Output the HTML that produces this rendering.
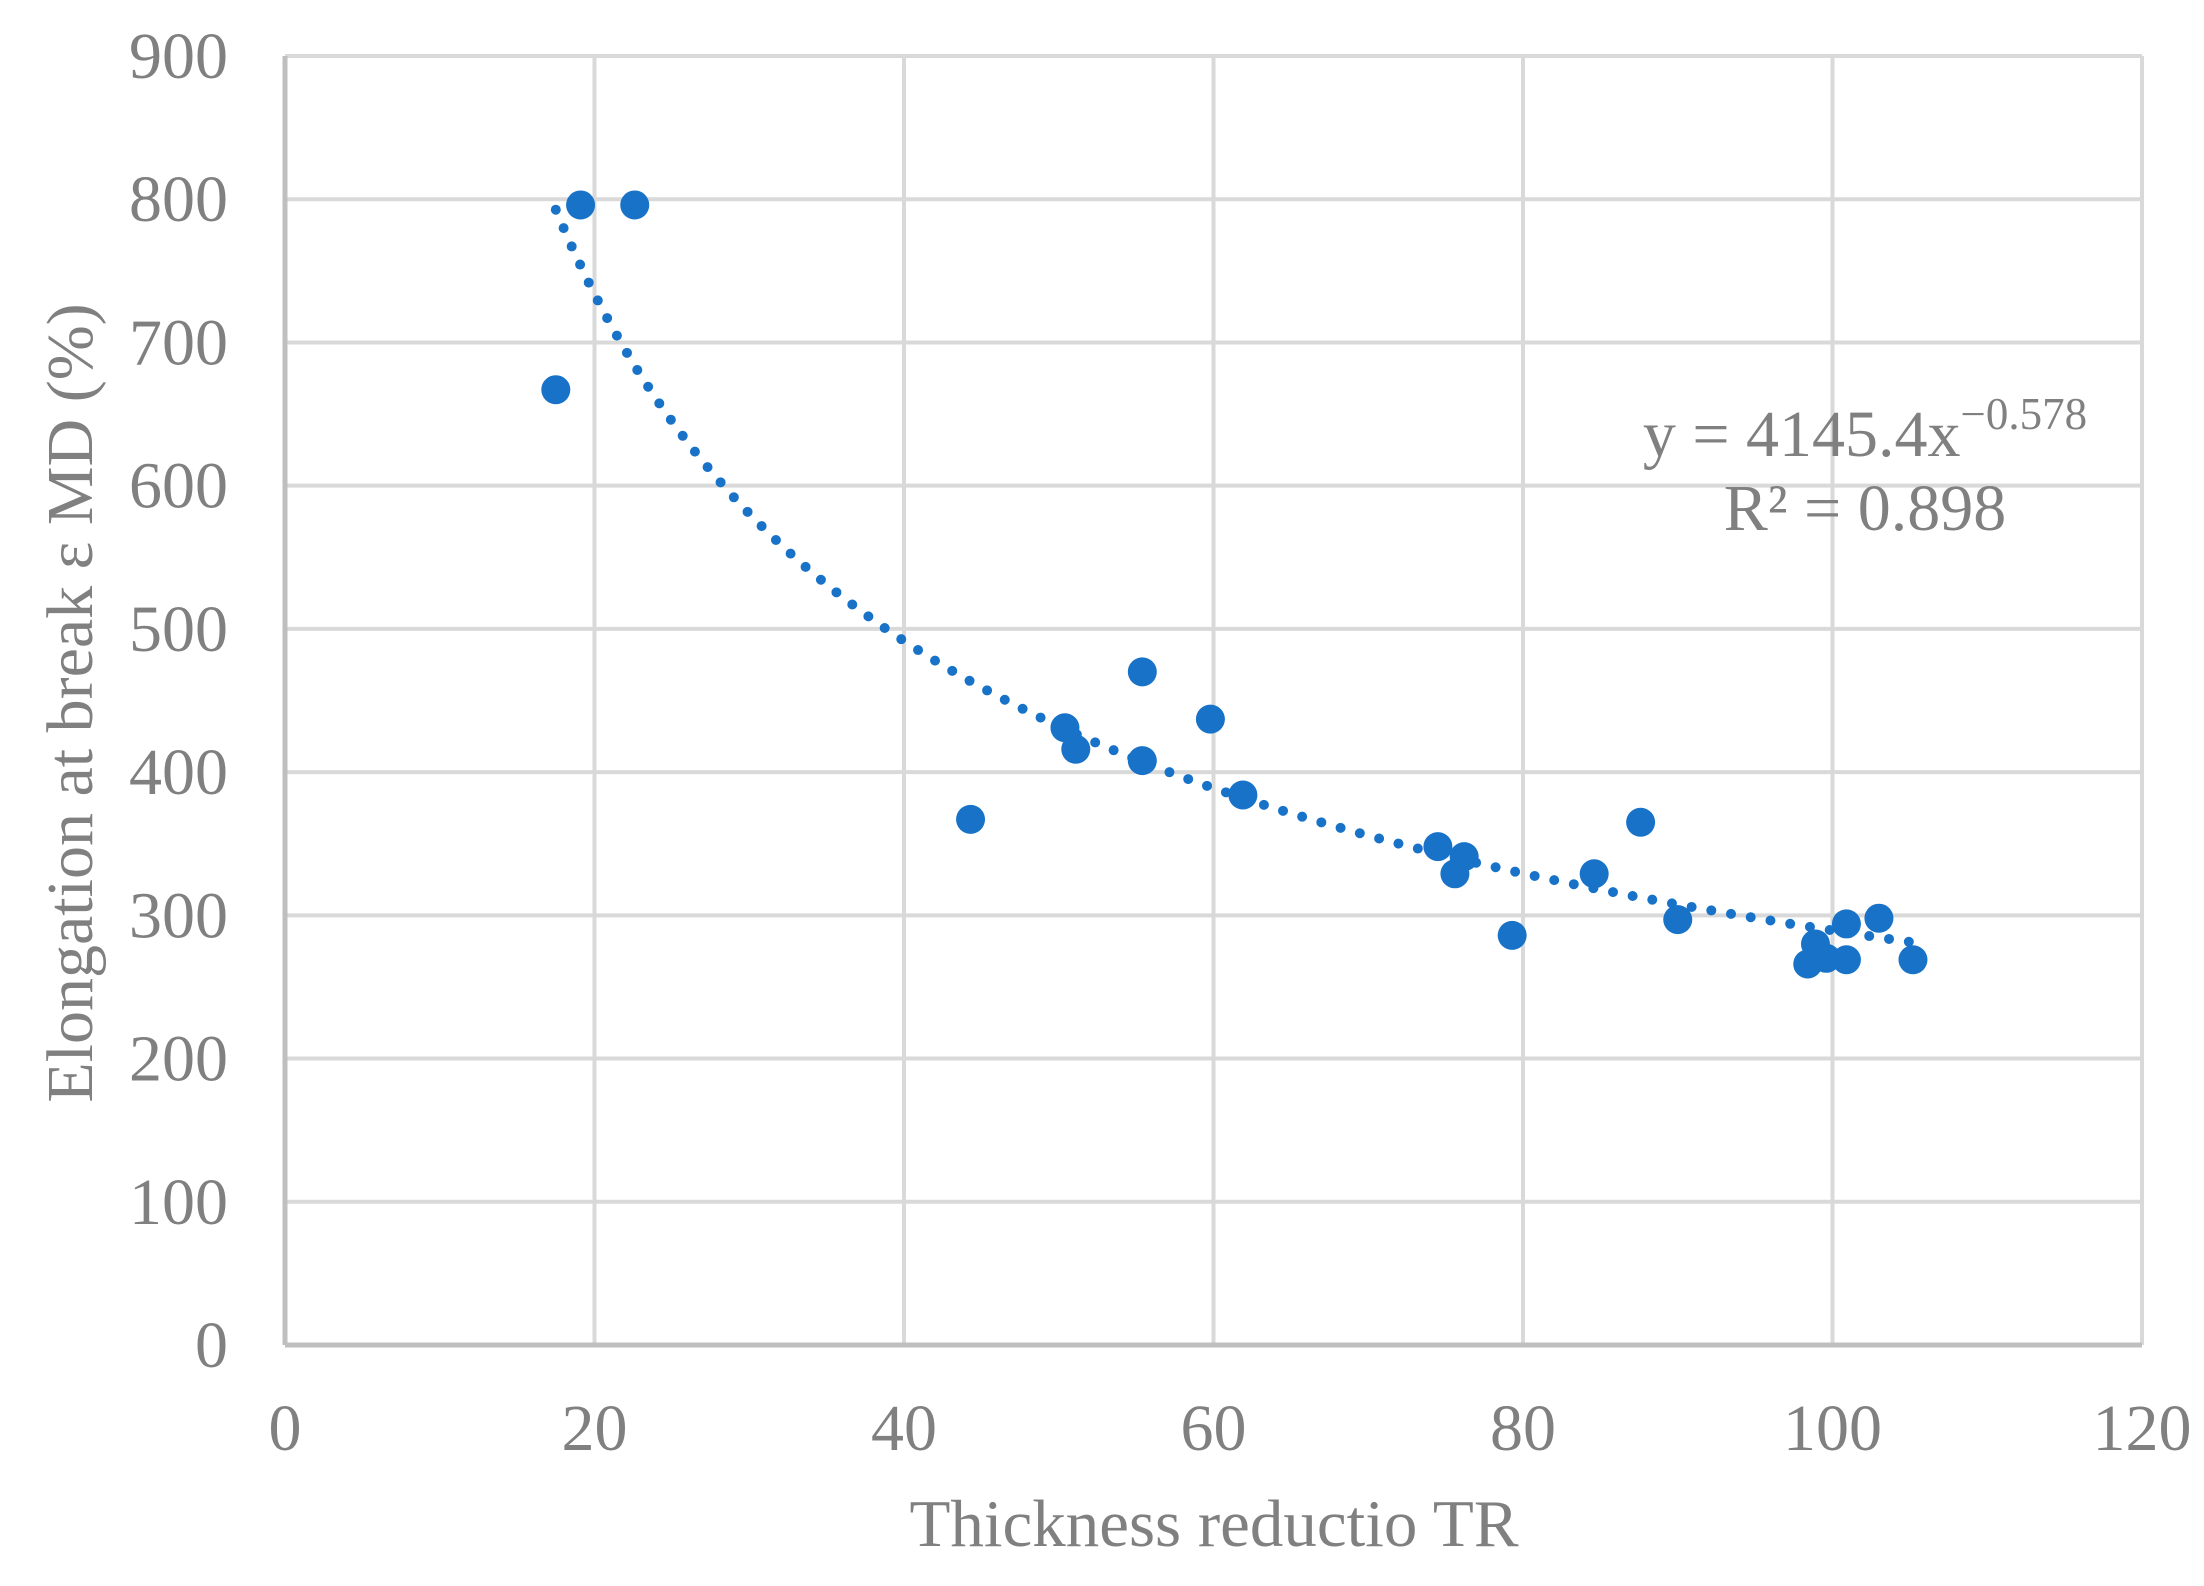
<!DOCTYPE html>
<html><head><meta charset="utf-8"><style>
html,body{margin:0;padding:0;background:#fff}
svg{display:block}
text{font-family:"Liberation Serif",serif;fill:#808080}
</style></head><body>
<svg id="chart" width="2204" height="1586" viewBox="0 0 2204 1586" xmlns="http://www.w3.org/2000/svg">
<g id="grid"></g>
<g id="axes"></g>
<g id="trend"></g>
<g id="points"></g>
<text x="1214" y="1546" font-size="67" text-anchor="middle">Thickness reductio TR</text>
<text transform="translate(92,703) rotate(-90)" font-size="66" text-anchor="middle">Elongation at break ε MD (%)</text>
<text x="1865" y="456" font-size="66" text-anchor="middle">y = 4145.4x<tspan font-size="45" dy="-27">−0.578</tspan></text>
<text x="1865" y="530" font-size="66" text-anchor="middle">R² = 0.898</text>
</svg>
<script>
const xTicks=[0,20,40,60,80,100,120];
const yTicks=[0,100,200,300,400,500,600,700,800,900];
const xVals=[17.5,19.1,22.6,44.3,50.4,51.1,55.4,55.4,59.8,61.9,74.5,76.2,75.6,79.3,84.6,87.6,90.0,98.4,98.9,99.6,100.9,100.9,103.0,105.2];
const yVals=[667,796,796,367,431,416,470,408,437,384,348,341,329,286,329,365,297,266,280,270,269,294,298,269];
const trendCoef=[4145.4,-0.578];
const trendRange=[17.5,105.2];
const NS='http://www.w3.org/2000/svg';
const X0=285,X1=2142,Y0=1345,Y1=56;
const sx=v=>X0+(v-0)/(120-0)*(X1-X0);
const sy=v=>Y0-(v-0)/(900-0)*(Y0-Y1);
function mk(tag,attrs,parent){const e=document.createElementNS(NS,tag);for(const k in attrs)e.setAttribute(k,attrs[k]);parent.appendChild(e);return e;}
const grid=document.getElementById('grid'),axes=document.getElementById('axes');
xTicks.forEach(t=>{
 if(t>0){const l=mk('line',{x1:sx(t),x2:sx(t),y1:Y1,y2:Y0,stroke:'#d9d9d9','stroke-width':4},grid);
 
 }
 const tx=mk('text',{x:sx(t),y:1450,'font-size':66,'text-anchor':'middle'},axes);
 tx.textContent=t;
 
 
});
yTicks.forEach(t=>{
 if(t>0){const l=mk('line',{x1:X0,x2:X1,y1:sy(t),y2:sy(t),stroke:'#d9d9d9','stroke-width':4},grid);
 
 }
 const tx=mk('text',{x:228,y:sy(t)+22,'font-size':66,'text-anchor':'end'},axes);
 tx.textContent=t;
 
 
});
const ax=mk('line',{x1:X0,x2:X1,y1:Y0,y2:Y0,stroke:'#bfbfbf','stroke-width':5},axes);


const ay=mk('line',{x1:X0,x2:X0,y1:Y1,y2:Y0,stroke:'#bfbfbf','stroke-width':5},axes);


let d='';
for(let i=0;i<=200;i++){const xv=trendRange[0]+(trendRange[1]-trendRange[0])*i/200;const yv=trendCoef[0]*Math.pow(xv,trendCoef[1]);d+=(i?'L':'M')+sx(xv).toFixed(1)+' '+sy(yv).toFixed(1);}
const tp=mk('path',{d:d,fill:'none',stroke:'#1872c8','stroke-width':10,'stroke-linecap':'round','stroke-dasharray':'0 20'},document.getElementById('trend'));


const pg=document.getElementById('points');
xVals.forEach((xv,i)=>{
 const c=mk('ellipse',{cx:sx(xv),cy:sy(yVals[i]),rx:14.5,ry:14.5,fill:'#1872c8'},pg);
 
 
});
</script>
</body></html>
